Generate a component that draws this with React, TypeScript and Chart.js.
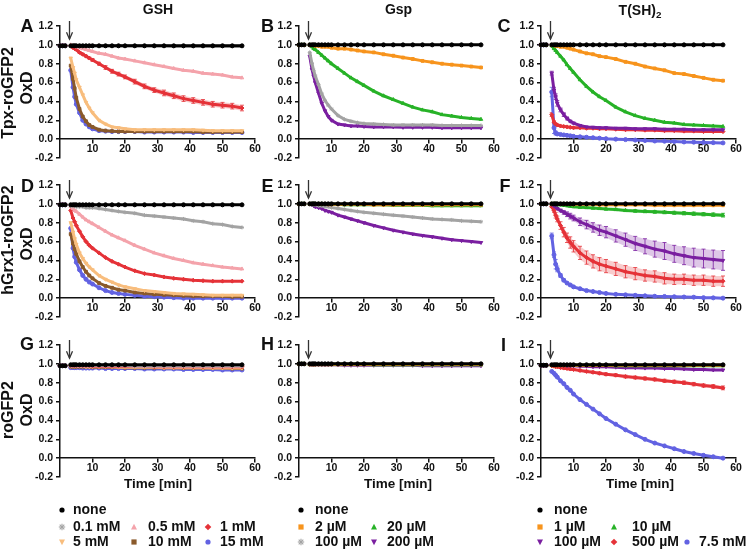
import React, { useEffect, useRef } from 'react';
import { Chart, registerables } from 'chart.js';
Chart.register(...registerables);

const FONT = 'Arial, "Liberation Sans", Helvetica, sans-serif';

// ---------- axes ----------
const TIME = [0, 0.8, 1.6, 3.3, 4, 4.5, 5, 6, 7, 8, 9, 10, 12, 14, 16, 18, 20, 23, 26, 29, 32, 35, 38, 41, 44, 47, 50, 53, 56];
const ARROW_T = 2.7;
const ARROW_TIP = 1.06;
const X_TICKS = [10, 20, 30, 40, 50, 60];
const Y_TICKS = [-0.2, 0, 0.2, 0.4, 0.6, 0.8, 1.0, 1.2];

const COL_TITLES = ['GSH', 'Gsp', 'T(SH)'];
const ROW_TITLES = ['Tpx-roGFP2', 'hGrx1-roGFP2', 'roGFP2'];
const Y_UNIT = 'OxD';
const X_TITLE = 'Time [min]';
const LETTERS = ['A', 'B', 'C', 'D', 'E', 'F', 'G', 'H', 'I'];

const GSH_LABELS = ['none', '0.1 mM', '0.5 mM', '1 mM', '5 mM', '10 mM', '15 mM'];
const GSP_LABELS = ['none', '2 µM', '20 µM', '100 µM', '200 µM'];
const TSH_LABELS = ['none', '1 µM', '10 µM', '100 µM', '500 µM', '7.5 mM'];

// ---------- data (pre 3 | 3.3..5 | 6..10 | 12..20 | 23..35 | 38..50 | 53,56) ----------
// A: GSH, Tpx-roGFP2
const A_none = [0.99,0.99,0.99, 0.99,0.99,0.99,0.99, 0.99,0.99,0.99,0.99,0.99, 0.99,0.99,0.99,0.99,0.99, 0.99,0.99,0.99,0.99,0.99, 0.99,0.99,0.99,0.99,0.99, 0.99,0.99];
const A_01 = [0.99,0.99,0.99, 0.99,0.99,0.99,0.99, 0.99,0.99,0.99,0.99,0.99, 0.99,0.99,0.99,0.99,0.99, 0.99,0.99,0.99,0.99,0.985, 0.985,0.985,0.985,0.985,0.985, 0.985,0.985];
const A_05 = [0.99,0.99,0.99, 1.0,0.99,0.99,0.98, 0.97,0.96,0.95,0.94,0.93, 0.91,0.90,0.88,0.86,0.85, 0.83,0.81,0.79,0.77,0.75, 0.73,0.72,0.70,0.69,0.68, 0.66,0.65];
const A_1 = [0.99,0.99,0.99, 0.99,0.97,0.96,0.95, 0.92,0.90,0.88,0.86,0.84, 0.80,0.76,0.72,0.69,0.66, 0.61,0.56,0.52,0.49,0.46, 0.43,0.41,0.39,0.37,0.36, 0.35,0.33];
const A_1_ERR = [0,0,0, 0,0.005,0.005,0.005, 0.01,0.01,0.01,0.01,0.015, 0.015,0.02,0.02,0.02,0.02, 0.025,0.025,0.025,0.03,0.03, 0.03,0.03,0.03,0.03,0.03, 0.03,0.03];
const A_5 = [0.99,0.99,0.99, 0.86,0.76,0.70,0.63, 0.55,0.47,0.39,0.33,0.28, 0.20,0.16,0.13,0.12,0.11, 0.10,0.10,0.10,0.10,0.10, 0.10,0.10,0.095,0.09,0.09, 0.09,0.09];
const A_10 = [0.99,0.99,0.99, 0.78,0.64,0.54,0.44, 0.32,0.24,0.19,0.15,0.13, 0.10,0.09,0.085,0.08,0.08, 0.08,0.08,0.08,0.08,0.08, 0.08,0.08,0.075,0.075,0.075, 0.075,0.075];
const A_15 = [0.99,0.99,0.99, 0.73,0.55,0.45,0.37, 0.28,0.20,0.16,0.13,0.11, 0.09,0.085,0.08,0.08,0.08, 0.08,0.075,0.075,0.075,0.075, 0.075,0.07,0.07,0.07,0.07, 0.07,0.07];

// B: Gsp, Tpx-roGFP2
const B_none = [1,1,1, 1,1,1,1, 1,1,1,1,1, 1,1,1,1,1, 1,1,1,1,1, 1,1,1,1,1, 1,1];
const B_2 = [1,1,1, 1,1,1,0.99, 0.99,0.98,0.98,0.98,0.97, 0.96,0.96,0.95,0.94,0.93, 0.92,0.90,0.885,0.865,0.85, 0.83,0.815,0.80,0.79,0.78, 0.77,0.76];
const B_20 = [1,1,1, 1,0.98,0.96,0.95, 0.92,0.89,0.86,0.83,0.80, 0.75,0.70,0.65,0.61,0.57, 0.51,0.46,0.42,0.38,0.34, 0.31,0.29,0.26,0.245,0.23, 0.22,0.21];
const B_100 = [1,1,1, 0.92,0.80,0.73,0.67, 0.58,0.48,0.41,0.36,0.32, 0.25,0.21,0.19,0.175,0.165, 0.16,0.155,0.15,0.15,0.15, 0.15,0.15,0.145,0.145,0.145, 0.145,0.145];
const B_200 = [1,1,1, 0.88,0.74,0.67,0.60, 0.49,0.38,0.30,0.24,0.20, 0.16,0.15,0.14,0.14,0.135, 0.13,0.13,0.13,0.125,0.125, 0.125,0.125,0.12,0.12,0.12, 0.12,0.12];

// C: T(SH)2, Tpx-roGFP2
const C_none = [1,1,1, 1,1,1,1, 1,1,1,1,1, 1,1,1,1,1, 1,1,1,1,1, 1,1,1,1,1, 1,1];
const C_1 = [1,1,1, 1,1,0.99,0.99, 0.98,0.98,0.97,0.96,0.95, 0.93,0.91,0.90,0.88,0.87, 0.85,0.82,0.80,0.77,0.75, 0.73,0.70,0.69,0.67,0.65, 0.63,0.62];
const C_10 = [1,1,1, 0.99,0.96,0.94,0.92, 0.88,0.84,0.79,0.75,0.71, 0.63,0.56,0.50,0.45,0.41, 0.34,0.29,0.25,0.22,0.20, 0.18,0.17,0.155,0.15,0.145, 0.14,0.135];
const C_100 = [1,1,1, 0.70,0.52,0.45,0.38, 0.31,0.26,0.22,0.19,0.17, 0.145,0.13,0.125,0.12,0.12, 0.115,0.115,0.11,0.11,0.11, 0.105,0.105,0.105,0.10,0.10, 0.10,0.10];
const C_100_ERR = [0,0,0, 0.02,0.03,0.03,0.03, 0.02,0.02,0.015,0.01,0.01, 0.005,0.005,0.005,0.005,0.005, 0,0,0,0,0, 0,0,0,0,0, 0,0];
const C_500 = [1,1,1, 0.26,0.18,0.16,0.15, 0.14,0.135,0.13,0.125,0.12, 0.12,0.115,0.115,0.11,0.11, 0.105,0.10,0.10,0.095,0.095, 0.09,0.09,0.085,0.085,0.08, 0.08,0.08];
const C_500_ERR = [0,0,0, 0.02,0.015,0.01,0.01, 0.005,0.005,0.005,0.005,0.005, 0,0,0,0,0, 0,0,0,0,0, 0,0,0,0,0, 0,0];
const C_75 = [1,1,1, 0.50,0.12,0.065,0.055, 0.05,0.045,0.04,0.035,0.03, 0.025,0.02,0.015,0.01,0.005, 0.0,-0.005,-0.01,-0.015,-0.02, -0.022,-0.025,-0.03,-0.032,-0.035, -0.037,-0.04];
const C_75_ERR = [0,0,0, 0.05,0.06,0.02,0.01, 0.005,0.005,0,0,0, 0,0,0,0,0, 0,0,0,0,0, 0,0,0,0,0, 0,0];

// D: GSH, hGrx1-roGFP2
const D_none = [0.99,0.99,0.99, 0.99,0.99,0.99,0.99, 0.99,0.99,0.99,0.99,0.99, 0.99,0.99,0.99,0.99,0.99, 0.99,0.99,0.99,0.99,0.99, 0.99,0.99,0.99,0.99,0.99, 0.99,0.99];
const D_01 = [0.99,0.99,0.99, 0.98,0.98,0.98,0.97, 0.97,0.97,0.96,0.96,0.96, 0.95,0.94,0.93,0.92,0.91, 0.90,0.88,0.87,0.86,0.85, 0.84,0.82,0.81,0.79,0.78, 0.76,0.75];
const D_05 = [0.99,0.99,0.99, 0.97,0.95,0.93,0.92, 0.89,0.86,0.83,0.81,0.79, 0.75,0.71,0.67,0.64,0.61, 0.56,0.52,0.48,0.45,0.42, 0.40,0.375,0.36,0.345,0.33, 0.32,0.31];
const D_1 = [0.99,0.99,0.99, 0.93,0.85,0.81,0.77, 0.71,0.65,0.60,0.56,0.53, 0.48,0.43,0.39,0.36,0.33, 0.29,0.26,0.245,0.225,0.21, 0.20,0.19,0.185,0.18,0.18, 0.18,0.18];
const D_5 = [0.99,0.99,0.99, 0.80,0.70,0.63,0.57, 0.48,0.42,0.37,0.33,0.30, 0.24,0.20,0.17,0.14,0.12, 0.10,0.08,0.07,0.06,0.05, 0.045,0.04,0.035,0.03,0.03, 0.03,0.03];
const D_10 = [0.99,0.99,0.99, 0.68,0.58,0.52,0.47, 0.39,0.33,0.28,0.24,0.21, 0.16,0.13,0.11,0.09,0.08, 0.06,0.05,0.04,0.035,0.03, 0.025,0.02,0.02,0.02,0.02, 0.015,0.015];
const D_15 = [0.99,0.99,0.99, 0.74,0.53,0.44,0.38, 0.30,0.24,0.20,0.17,0.15, 0.11,0.08,0.06,0.05,0.04, 0.03,0.02,0.015,0.01,0.005, 0,0,0,0,0, 0,0];

// E: Gsp, hGrx1-roGFP2
const E_none = [1,1,1, 1,1,1,1, 1,1,1,1,1, 1,1,1,1,1, 1,1,1,1,1, 1,1,1,1,1, 1,1];
const E_2 = [1,1,1, 1,1,1,1, 1,1,1,0.995,0.995, 0.995,0.995,0.995,0.995,0.995, 0.99,0.99,0.99,0.99,0.99, 0.99,0.99,0.99,0.99,0.99, 0.99,0.99];
const E_20 = [1,1,1, 1,1,1,1, 1,1,0.995,0.995,0.995, 0.995,0.99,0.99,0.99,0.99, 0.99,0.99,0.985,0.985,0.985, 0.985,0.98,0.98,0.98,0.98, 0.98,0.98];
const E_100 = [1,1,1, 1,0.99,0.99,0.99, 0.98,0.98,0.97,0.97,0.96, 0.95,0.94,0.93,0.92,0.91, 0.90,0.89,0.88,0.87,0.86, 0.85,0.84,0.835,0.83,0.82, 0.815,0.81];
const E_200 = [1,1,1, 1,0.99,0.98,0.97, 0.96,0.95,0.93,0.92,0.91, 0.88,0.86,0.84,0.82,0.80, 0.77,0.745,0.72,0.70,0.68, 0.665,0.65,0.635,0.62,0.61, 0.60,0.59];

// F: T(SH)2, hGrx1-roGFP2
const F_none = [1,1,1, 1,1,1,1, 1,1,1,1,1, 1,1,1,1,1, 1,1,1,1,1, 1,1,1,1,1, 1,1];
const F_1 = [1,1,1, 1,1,1,1, 1,1,1,1,0.995, 0.995,0.995,0.995,0.99,0.99, 0.99,0.99,0.99,0.99,0.985, 0.985,0.985,0.985,0.985,0.985, 0.985,0.985];
const F_10 = [1,1,1, 1,1,0.995,0.99, 0.99,0.985,0.98,0.975,0.97, 0.965,0.96,0.955,0.95,0.945, 0.94,0.93,0.925,0.92,0.915, 0.91,0.905,0.90,0.895,0.89, 0.885,0.88];
const F_10_ERR = [0,0,0, 0,0,0,0, 0.005,0.005,0.005,0.005,0.005, 0.01,0.01,0.01,0.01,0.01, 0.012,0.012,0.014,0.014,0.015, 0.015,0.016,0.017,0.018,0.018, 0.019,0.02];
const F_100 = [1,1,1, 1,0.98,0.965,0.95, 0.93,0.91,0.89,0.87,0.85, 0.81,0.78,0.75,0.72,0.70, 0.66,0.62,0.58,0.55,0.52, 0.50,0.47,0.45,0.43,0.42, 0.41,0.40];
const F_100_ERR = [0,0,0, 0,0.005,0.008,0.01, 0.015,0.02,0.025,0.03,0.03, 0.04,0.045,0.05,0.055,0.06, 0.065,0.07,0.075,0.08,0.085, 0.09,0.09,0.095,0.10,0.10, 0.10,0.105];
const F_500 = [1,1,1, 0.97,0.93,0.88,0.84, 0.77,0.70,0.64,0.59,0.55, 0.48,0.43,0.39,0.36,0.34, 0.31,0.28,0.26,0.24,0.23, 0.21,0.20,0.20,0.19,0.19, 0.18,0.18];
const F_500_ERR = [0,0,0, 0.01,0.02,0.03,0.03, 0.04,0.05,0.05,0.06,0.06, 0.07,0.07,0.07,0.07,0.07, 0.07,0.065,0.065,0.06,0.06, 0.06,0.055,0.055,0.055,0.055, 0.055,0.055];
const F_75 = [1,1,1, 0.66,0.46,0.36,0.31, 0.24,0.19,0.16,0.14,0.12, 0.10,0.08,0.07,0.06,0.05, 0.04,0.035,0.03,0.025,0.02, 0.018,0.015,0.012,0.01,0.005, 0.003,0.0];
const F_75_ERR = [0,0,0, 0.03,0.03,0.05,0.03, 0.02,0.015,0.01,0.01,0.01, 0.005,0.005,0.005,0,0, 0,0,0,0,0, 0,0,0,0,0, 0,0];

// G: GSH, roGFP2
const G_none = [0.98,0.98,0.98, 0.99,0.99,0.99,0.99, 0.99,0.99,0.99,0.99,0.99, 0.99,0.99,0.99,0.99,0.99, 0.99,0.99,0.99,0.99,0.99, 0.99,0.99,0.99,0.99,0.99, 0.99,0.99];
const G_01 = [0.98,0.98,0.98, 0.985,0.985,0.985,0.985, 0.985,0.985,0.985,0.985,0.985, 0.985,0.985,0.985,0.985,0.985, 0.98,0.98,0.98,0.98,0.98, 0.98,0.98,0.98,0.98,0.98, 0.98,0.98];
const G_05 = [0.98,0.98,0.98, 0.98,0.98,0.98,0.98, 0.98,0.98,0.98,0.98,0.98, 0.98,0.98,0.98,0.98,0.98, 0.975,0.975,0.975,0.975,0.975, 0.975,0.975,0.975,0.975,0.975, 0.975,0.975];
const G_1 = [0.98,0.98,0.98, 0.98,0.98,0.98,0.98, 0.98,0.98,0.98,0.98,0.975, 0.975,0.975,0.975,0.975,0.975, 0.975,0.975,0.97,0.97,0.97, 0.97,0.97,0.97,0.97,0.97, 0.97,0.97];
const G_5 = [0.98,0.98,0.98, 0.975,0.975,0.975,0.975, 0.975,0.975,0.97,0.97,0.97, 0.97,0.97,0.97,0.965,0.965, 0.965,0.965,0.965,0.96,0.96, 0.96,0.96,0.96,0.955,0.955, 0.955,0.955];
const G_10 = [0.98,0.98,0.98, 0.97,0.97,0.97,0.97, 0.97,0.97,0.97,0.97,0.965, 0.965,0.965,0.965,0.965,0.96, 0.96,0.96,0.96,0.96,0.96, 0.955,0.955,0.955,0.955,0.955, 0.95,0.95];
const G_15 = [0.98,0.98,0.98, 0.96,0.96,0.96,0.96, 0.96,0.955,0.955,0.955,0.955, 0.955,0.95,0.95,0.95,0.95, 0.95,0.945,0.945,0.945,0.945, 0.94,0.94,0.94,0.94,0.935, 0.935,0.935];

// H: Gsp, roGFP2
const H_none = [1,1,1, 1,1,1,1, 1,1,1,1,1, 1,1,1,1,1, 1,1,1,1,1, 1,1,1,1,1, 1,1];
const H_2 = [1,1,1, 0.995,0.995,0.995,0.995, 0.995,0.995,0.995,0.995,0.995, 0.995,0.995,0.995,0.995,0.995, 0.995,0.995,0.995,0.995,0.995, 0.995,0.995,0.995,0.995,0.995, 0.995,0.995];
const H_20 = [1,1,1, 0.995,0.995,0.995,0.995, 0.995,0.995,0.995,0.995,0.995, 0.995,0.995,0.995,0.995,0.995, 0.99,0.99,0.99,0.99,0.99, 0.99,0.99,0.99,0.99,0.99, 0.99,0.99];
const H_100 = [1,1,1, 0.99,0.99,0.99,0.99, 0.99,0.99,0.99,0.99,0.99, 0.99,0.99,0.99,0.99,0.99, 0.99,0.99,0.99,0.99,0.99, 0.99,0.99,0.99,0.99,0.99, 0.99,0.99];
const H_200 = [1,1,1, 0.99,0.99,0.99,0.99, 0.99,0.99,0.99,0.99,0.99, 0.99,0.985,0.985,0.985,0.985, 0.985,0.985,0.985,0.985,0.985, 0.98,0.98,0.98,0.98,0.98, 0.98,0.98];

// I: T(SH)2, roGFP2
const I_none = [0.985,0.985,0.985, 0.99,0.99,0.99,0.99, 0.99,0.99,0.99,0.99,0.99, 0.99,0.99,0.99,0.99,0.99, 0.99,0.99,0.99,0.99,0.99, 0.99,0.99,0.99,0.99,0.99, 0.99,0.99];
const I_1 = [0.985,0.985,0.985, 0.985,0.985,0.985,0.985, 0.985,0.985,0.985,0.985,0.985, 0.985,0.985,0.985,0.985,0.985, 0.985,0.985,0.985,0.985,0.985, 0.985,0.985,0.985,0.985,0.985, 0.985,0.985];
const I_10 = [0.985,0.985,0.985, 0.985,0.985,0.985,0.985, 0.985,0.985,0.985,0.985,0.985, 0.985,0.985,0.985,0.985,0.985, 0.98,0.98,0.98,0.98,0.98, 0.98,0.98,0.98,0.98,0.98, 0.98,0.98];
const I_100 = [0.985,0.985,0.985, 0.99,0.99,0.99,0.99, 0.985,0.985,0.98,0.98,0.98, 0.975,0.975,0.97,0.97,0.97, 0.965,0.96,0.96,0.955,0.955, 0.95,0.95,0.945,0.94,0.94, 0.935,0.935];
const I_500 = [0.985,0.985,0.985, 0.98,0.975,0.97,0.97, 0.96,0.955,0.95,0.945,0.94, 0.93,0.92,0.91,0.90,0.89, 0.88,0.865,0.855,0.845,0.835, 0.82,0.81,0.80,0.785,0.77, 0.76,0.745];
const I_500_ERR = [0,0,0, 0.005,0.005,0.005,0.005, 0.008,0.008,0.01,0.01,0.01, 0.012,0.012,0.012,0.014,0.014, 0.015,0.015,0.015,0.016,0.016, 0.017,0.017,0.018,0.018,0.018, 0.02,0.02];
const I_75 = [0.985,0.985,0.985, 0.92,0.90,0.88,0.86, 0.82,0.79,0.75,0.72,0.68, 0.62,0.57,0.52,0.47,0.42, 0.36,0.30,0.25,0.20,0.16, 0.13,0.10,0.07,0.05,0.03, 0.015,0.0];

// ---------- styles ----------
const BLACK = '#000000', GRAY = '#a3a3a3', PINK = '#f4a3ab', RED = '#e53238', LORANGE = '#f8bd7d',
  BROWN = '#8a5a2b', BLUE = '#6262e2', ORANGE = '#f7941d', GREEN = '#27b227', PURPLE = '#7a1fa0';

type Sty = { color: string; shape: string; rot?: number };
const GSH_STYLES: Sty[] = [
  { color: BLACK, shape: 'circle' }, { color: GRAY, shape: 'star' }, { color: PINK, shape: 'triangle' },
  { color: RED, shape: 'rectRot' }, { color: LORANGE, shape: 'triangle', rot: 180 },
  { color: BROWN, shape: 'rect' }, { color: BLUE, shape: 'circle' },
];
const GSP_STYLES: Sty[] = [
  { color: BLACK, shape: 'circle' }, { color: ORANGE, shape: 'rect' }, { color: GREEN, shape: 'triangle' },
  { color: GRAY, shape: 'star' }, { color: PURPLE, shape: 'triangle', rot: 180 },
];
const TSH_STYLES: Sty[] = [
  { color: BLACK, shape: 'circle' }, { color: ORANGE, shape: 'rect' }, { color: GREEN, shape: 'triangle' },
  { color: PURPLE, shape: 'triangle', rot: 180 }, { color: RED, shape: 'rectRot' }, { color: BLUE, shape: 'circle' },
];
const COL_LABELS = [GSH_LABELS, GSP_LABELS, TSH_LABELS];
const COL_STYLES = [GSH_STYLES, GSP_STYLES, TSH_STYLES];

const PANELS: any[] = [
  { col: 0, row: 0, series: [A_none, A_01, A_05, A_1, A_5, A_10, A_15], errs: [null, null, null, A_1_ERR, null, null, null] },
  { col: 1, row: 0, series: [B_none, B_2, B_20, B_100, B_200], errs: [] },
  { col: 2, row: 0, series: [C_none, C_1, C_10, C_100, C_500, C_75], errs: [null, null, null, C_100_ERR, C_500_ERR, C_75_ERR] },
  { col: 0, row: 1, series: [D_none, D_01, D_05, D_1, D_5, D_10, D_15], errs: [] },
  { col: 1, row: 1, series: [E_none, E_2, E_20, E_100, E_200], errs: [] },
  { col: 2, row: 1, series: [F_none, F_1, F_10, F_100, F_500, F_75], errs: [null, null, F_10_ERR, F_100_ERR, F_500_ERR, F_75_ERR] },
  { col: 0, row: 2, series: [G_none, G_01, G_05, G_1, G_5, G_10, G_15], errs: [] },
  { col: 1, row: 2, series: [H_none, H_2, H_20, H_100, H_200], errs: [] },
  { col: 2, row: 2, series: [I_none, I_1, I_10, I_100, I_500, I_75], errs: [null, null, null, null, I_500_ERR, null] },
];

// ---------- layout ----------
const COL_X0 = [59.5, 299, 540.5];
const ROW_TOP = [26, 185, 345];
const PLOT_W = 195, PLOT_H = 132;
const Y_AXIS_W = 56, PAD_T = 16, PAD_R = 16, PAD_B = 12;
const CANVAS_W = Y_AXIS_W + PLOT_W + PAD_R;
const CANVAS_H = PAD_T + PLOT_H + PAD_B;

function rgba(hex: string, a: number) {
  const n = parseInt(hex.slice(1), 16);
  return `rgba(${(n >> 16) & 255},${(n >> 8) & 255},${n & 255},${a})`;
}

const errPlugin = {
  id: 'errBars',
  beforeDatasetsDraw(chart: any) {
    const { ctx, scales } = chart;
    const x = scales.x, y = scales.y;
    chart.data.datasets.forEach((ds: any) => {
      const err = ds.err;
      if (!err) return;
      const pts = ds.data;
      const idx: number[] = [];
      pts.forEach((p: any, i: number) => { if (err[i] > 0) idx.push(i); });
      if (!idx.length) return;
      ctx.save();
      ctx.fillStyle = rgba(ds.borderColor, 0.25);
      ctx.beginPath();
      idx.forEach((i, k) => {
        const px = x.getPixelForValue(pts[i].x), py = y.getPixelForValue(pts[i].y + err[i]);
        if (k === 0) ctx.moveTo(px, py); else ctx.lineTo(px, py);
      });
      idx.slice().reverse().forEach((i) => {
        ctx.lineTo(x.getPixelForValue(pts[i].x), y.getPixelForValue(pts[i].y - err[i]));
      });
      ctx.closePath();
      ctx.fill();
      ctx.strokeStyle = rgba(ds.borderColor, 0.8);
      ctx.lineWidth = 1;
      idx.forEach((i) => {
        const px = x.getPixelForValue(pts[i].x);
        const hi = y.getPixelForValue(pts[i].y + err[i]);
        const lo = y.getPixelForValue(pts[i].y - err[i]);
        ctx.beginPath();
        ctx.moveTo(px, hi); ctx.lineTo(px, lo);
        ctx.moveTo(px - 2, hi); ctx.lineTo(px + 2, hi);
        ctx.moveTo(px - 2, lo); ctx.lineTo(px + 2, lo);
        ctx.stroke();
      });
      ctx.restore();
    });
  },
};

const arrowPlugin = {
  id: 'addArrow',
  afterDraw(chart: any) {
    const { ctx, scales } = chart;
    const px = Math.round(scales.x.getPixelForValue(ARROW_T)) + 0.5;
    const y0 = scales.y.getPixelForValue(1.2) - 5;
    const y1 = scales.y.getPixelForValue(ARROW_TIP);
    ctx.save();
    ctx.strokeStyle = '#333';
    ctx.lineWidth = 1.3;
    ctx.beginPath();
    ctx.moveTo(px, y0); ctx.lineTo(px, y1);
    ctx.stroke();
    ctx.beginPath();
    ctx.moveTo(px - 3, y1 - 7); ctx.lineTo(px, y1); ctx.lineTo(px + 3, y1 - 7);
    ctx.stroke();
    ctx.restore();
  },
};

function buildConfig(p: any): any {
  const labels = COL_LABELS[p.col];
  const styles = COL_STYLES[p.col];
  const datasets = p.series.map((vals: number[], i: number) => {
    const st = styles[i];
    return {
      label: labels[i],
      data: TIME.map((t, k) => ({ x: t, y: vals[k] })),
      err: p.errs[i] || null,
      showLine: true,
      borderColor: st.color,
      backgroundColor: st.color,
      borderWidth: 3,
      pointRadius: 2,
      pointStyle: st.shape,
      pointRotation: st.rot || 0,
      pointBorderColor: st.color,
      pointBackgroundColor: st.color,
      pointBorderWidth: 1,
      tension: 0,
      clip: false,
      segment: {
        borderColor: (c: any) => (c.p0.parsed.x < ARROW_T && c.p1.parsed.x > ARROW_T ? 'rgba(0,0,0,0)' : undefined),
      },
    };
  });
  const tickFont = { family: FONT, size: 10.5, weight: 'bold' };
  return {
    type: 'scatter',
    data: { datasets },
    plugins: [errPlugin, arrowPlugin],
    options: {
      animation: false,
      responsive: false,
      events: [],
      layout: { padding: { left: 0, top: PAD_T, right: PAD_R, bottom: PAD_B } },
      plugins: { legend: { display: false }, tooltip: { enabled: false } },
      scales: {
        x: {
          type: 'linear',
          position: { y: 0 },
          min: 0,
          max: 60,
          afterBuildTicks: (s: any) => { s.ticks = X_TICKS.map((v) => ({ value: v })); },
          ticks: { font: tickFont, color: '#111', padding: 0, maxRotation: 0, autoSkip: false },
          grid: { drawOnChartArea: false, drawTicks: true, tickLength: 4, color: '#111', lineWidth: 1.5 },
          border: { display: true, color: '#111', width: 1.5 },
        },
        y: {
          type: 'linear',
          position: 'left',
          min: -0.2,
          max: 1.2,
          afterBuildTicks: (s: any) => { s.ticks = Y_TICKS.map((v) => ({ value: v })); },
          afterFit: (s: any) => { s.width = Y_AXIS_W; },
          ticks: { font: tickFont, color: '#111', padding: 3, autoSkip: false, callback: (v: any) => Number(v).toFixed(1) },
          grid: { drawOnChartArea: false, drawTicks: true, tickLength: 4, color: '#111', lineWidth: 1.5 },
          border: { display: true, color: '#111', width: 1.5 },
        },
      },
    },
  };
}

function Panel({ p }: { p: any }) {
  const ref = useRef<HTMLCanvasElement>(null);
  useEffect(() => {
    const chart = new Chart(ref.current as HTMLCanvasElement, buildConfig(p));
    return () => chart.destroy();
  }, []);
  const left = COL_X0[p.col] - Y_AXIS_W;
  const top = ROW_TOP[p.row] - PAD_T;
  return (
    <canvas
      ref={ref}
      width={CANVAS_W}
      height={CANVAS_H}
      style={{ position: 'absolute', left, top, width: CANVAS_W, height: CANVAS_H }}
    />
  );
}

const baseText: any = {
  position: 'absolute',
  fontFamily: FONT,
  fontWeight: 'bold',
  lineHeight: 1,
  whiteSpace: 'nowrap',
  color: '#111',
};

function CText({ x, y, size, children, rotate }: any) {
  return (
    <div style={{ ...baseText, left: x, top: y, fontSize: size, transform: `translate(-50%,-50%)${rotate ? ' rotate(-90deg)' : ''}` }}>
      {children}
    </div>
  );
}

function LText({ x, y, size, children }: any) {
  return <div style={{ ...baseText, left: x, top: y, fontSize: size, transform: 'translateY(-50%)' }}>{children}</div>;
}

function LegendMarker({ st, x, y }: { st: Sty; x: number; y: number }) {
  const c = st.color;
  let el: any = null;
  if (st.shape === 'circle') el = <circle cx={0} cy={0} r={2.6} fill={c} />;
  else if (st.shape === 'rect') el = <rect x={-2.6} y={-2.6} width={5.2} height={5.2} fill={c} />;
  else if (st.shape === 'triangle' && st.rot === 180) el = <polygon points="0,3.2 3,-2.4 -3,-2.4" fill={c} />;
  else if (st.shape === 'triangle') el = <polygon points="0,-3.2 3,2.4 -3,2.4" fill={c} />;
  else if (st.shape === 'rectRot') el = <polygon points="0,-3.3 3.3,0 0,3.3 -3.3,0" fill={c} />;
  else if (st.shape === 'star')
    el = (
      <g stroke={c} strokeWidth={1.1}>
        <line x1={0} y1={-3.2} x2={0} y2={3.2} />
        <line x1={-3.2} y1={0} x2={3.2} y2={0} />
        <line x1={-2.3} y1={-2.3} x2={2.3} y2={2.3} />
        <line x1={-2.3} y1={2.3} x2={2.3} y2={-2.3} />
      </g>
    );
  return (
    <svg width={8} height={8} viewBox="-4 -4 8 8" style={{ position: 'absolute', left: x - 4, top: y - 4 }}>
      {el}
    </svg>
  );
}

// legend placement: [col, seriesIndex, markerX, textX, row]
const LEGEND_ROW_Y = [509.5, 526.5, 542];
const LEGEND_ITEMS: [number, number, number, number, number][] = [
  [0, 0, 61.5, 73, 0], [0, 1, 61.5, 73, 1], [0, 2, 134, 148, 1], [0, 3, 207.5, 220, 1],
  [0, 4, 61.5, 73, 2], [0, 5, 134, 148, 2], [0, 6, 208, 220, 2],
  [1, 0, 300.5, 315, 0], [1, 1, 300.5, 315, 1], [1, 2, 374, 387, 1], [1, 3, 300.5, 315, 2], [1, 4, 374, 387, 2],
  [2, 0, 540, 554, 0], [2, 1, 540, 554, 1], [2, 2, 614, 632, 1], [2, 3, 540, 554, 2], [2, 4, 614, 632, 2], [2, 5, 687, 699, 2],
];

const LETTER_POS = [
  [27, 25.5], [267.5, 25.5], [504, 26],
  [27.5, 186], [267.5, 186], [505, 186],
  [27, 344], [267.5, 344], [503.5, 345],
];
const COL_TITLE_POS = [[158, 8.5], [398.5, 8.5], [640, 10]];
const X_TITLE_POS = [[158, 484], [398, 484], [640, 484]];
const ROW_TITLE_Y = [[93, 88], [240, 244], [410, 410]];

export default function App() {
  return (
    <div style={{ position: 'absolute', left: 0, top: 0, width: 747, height: 553, background: '#fff', overflow: 'hidden' }}>
      {PANELS.map((p, i) => (
        <Panel key={i} p={p} />
      ))}
      {COL_TITLES.map((t, i) => (
        <CText key={'ct' + i} x={COL_TITLE_POS[i][0]} y={COL_TITLE_POS[i][1]} size={14}>
          {t}
          {i === 2 ? <sub style={{ fontSize: '0.7em', verticalAlign: '-0.3em', lineHeight: 0 }}>2</sub> : null}
        </CText>
      ))}
      {LETTERS.map((l, i) => (
        <CText key={'l' + i} x={LETTER_POS[i][0]} y={LETTER_POS[i][1]} size={18}>
          {l}
        </CText>
      ))}
      {ROW_TITLES.map((t, i) => (
        <React.Fragment key={'rt' + i}>
          <CText x={7.5} y={ROW_TITLE_Y[i][0]} size={16} rotate>
            {t}
          </CText>
          <CText x={27} y={ROW_TITLE_Y[i][1]} size={16} rotate>
            {Y_UNIT}
          </CText>
        </React.Fragment>
      ))}
      {X_TITLE_POS.map((pos, i) => (
        <CText key={'xt' + i} x={pos[0]} y={pos[1]} size={13.5}>
          {X_TITLE}
        </CText>
      ))}
      {LEGEND_ITEMS.map(([col, si, mx, tx, row], i) => (
        <React.Fragment key={'lg' + i}>
          <LegendMarker st={COL_STYLES[col][si]} x={mx} y={LEGEND_ROW_Y[row]} />
          <LText x={tx} y={LEGEND_ROW_Y[row] - 1} size={14}>
            {COL_LABELS[col][si]}
          </LText>
        </React.Fragment>
      ))}
    </div>
  );
}
